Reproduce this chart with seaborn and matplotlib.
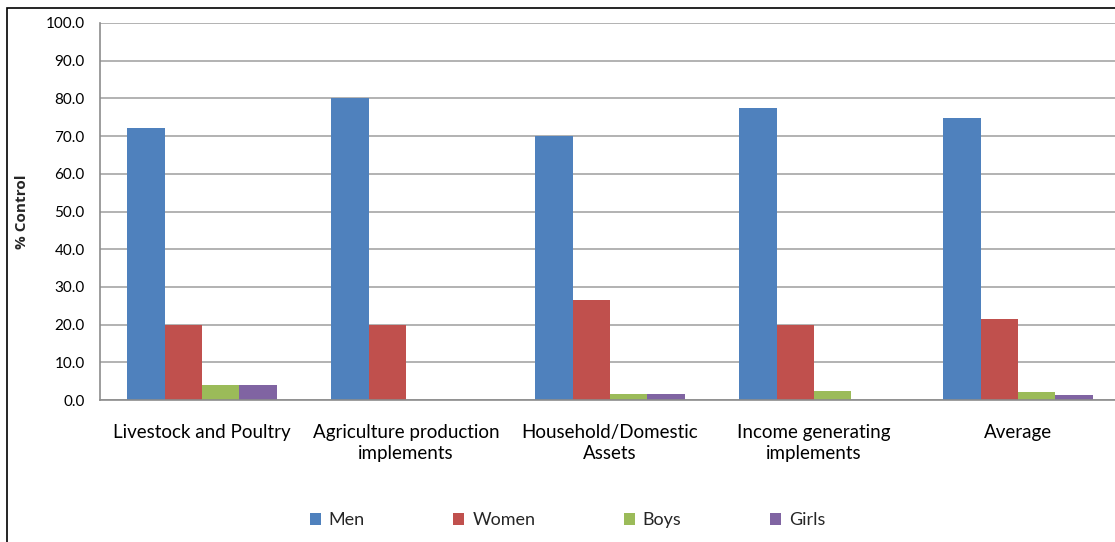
import matplotlib
matplotlib.use("Agg")
import matplotlib.pyplot as plt
from matplotlib.patches import Rectangle
import seaborn as sns
import pandas as pd

# Share of decision control over household resources, by family member
categories = [
    "Livestock and Poultry",
    "Agriculture production\nimplements",
    "Household/Domestic\nAssets",
    "Income generating\nimplements",
    "Average",
]
groups = ["Men", "Women", "Boys", "Girls"]
men = [72.1, 80.0, 70.0, 77.5, 74.8]
women = [20.0, 20.0, 26.5, 20.0, 21.5]
boys = [4.0, 0.0, 1.6, 2.4, 2.1]
girls = [4.0, 0.0, 1.6, 0.0, 1.3]
yticks = [0, 10, 20, 30, 40, 50, 60, 70, 80, 90, 100]
colors = ["#4F81BD", "#C0504D", "#9BBB59", "#8064A2"]

rows = []
for g, vals in zip(groups, [men, women, boys, girls]):
    for c, v in zip(categories, vals):
        rows.append({"Category": c, "Group": g, "Value": v})
df = pd.DataFrame(rows)

sns.set_style("white")
plt.rcParams["font.family"] = ["Lato", "DejaVu Sans"]

W, H = 1115, 542
fig = plt.figure(figsize=(W / 100, H / 100), dpi=100)
ax = fig.add_axes([100 / W, (H - 400) / H, 1020 / W, 377 / H])

sns.barplot(data=df, x="Category", y="Value", hue="Group", order=categories,
            hue_order=groups, palette=colors, width=0.735, gap=0,
            saturation=1, ax=ax, legend=True, linewidth=0)

ax.set_xlim(-0.5, len(categories) - 0.5)
ax.set_ylim(0, 100)
ax.set_yticks(yticks)
ax.set_yticklabels([f"{t:.1f}" for t in yticks], fontsize=11, color="#000000")
ax.yaxis.grid(True, color="#A6A6A6", linewidth=1.2)
ax.set_axisbelow(True)

# category boundary ticks on the x axis
ax.set_xticks([i - 0.5 for i in range(len(categories))], minor=True)
ax.tick_params(axis="x", which="minor", length=6, color="#8C8C8C", width=1.2,
               direction="out")
ax.tick_params(axis="x", which="major", length=0, pad=17)
ax.set_xticklabels(categories, fontsize=13.5, color="#000000", linespacing=1.3)
ax.tick_params(axis="y", length=5, color="#8C8C8C", width=1.2, direction="out", pad=6)

for side in ["top", "right"]:
    ax.spines[side].set_visible(False)
for side in ["left", "bottom"]:
    ax.spines[side].set_color("#8C8C8C")
    ax.spines[side].set_linewidth(1.2)

ax.set_xlabel("")
ax.set_ylabel("% Control", fontsize=11, fontweight="bold", labelpad=12,
              family=["Open Sans", "DejaVu Sans"])

handles, labels = ax.get_legend_handles_labels()
ax.legend_.remove()
fig.legend(handles, labels, loc="center", bbox_to_anchor=(0.509, 0.04),
           ncol=4, frameon=False, fontsize=13, handlelength=0.6,
           handleheight=0.6, handletextpad=0.45, columnspacing=4.9)

# outer chart border
fig.patches.append(Rectangle((7 / W, -0.05), 1.2, 1 - 8 / H + 0.05,
                             transform=fig.transFigure, fill=False,
                             edgecolor="#000000", linewidth=1.2))

fig.savefig("out.png", dpi=100)
